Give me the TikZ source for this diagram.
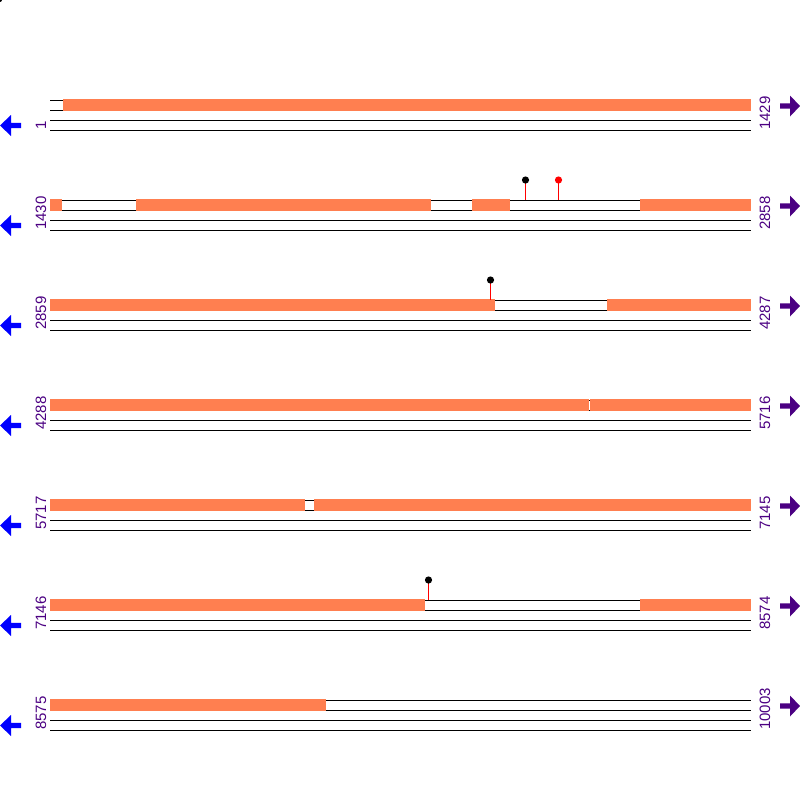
\documentclass[tikz,border=0pt]{standalone}
\usepackage{fontspec}
\setmainfont{Liberation Sans}
\definecolor{coral}{RGB}{255,127,80}
\definecolor{indigo}{RGB}{75,0,130}
\tikzset{
  seg/.style={fill=coral},
  num/.style={rotate=90,anchor=west,inner sep=0pt,text=indigo,
    font=\fontsize{15}{15}\selectfont},
  stick/.style={red,line width=1pt},
}
% orange piece of a row: \piece{row}{from}{to}
\newcommand{\piece}[3]{\fill[seg] (#2,#1-0.6) rectangle (#3,#1+10.6);}
% pin: \pinat{row}{x}{ball colour}
\newcommand{\pinat}[3]{\draw[stick] (#2,#1) -- (#2,#1-20);
  \fill[#3] (#2,#1-20) circle (3.6);}

\begin{document}
\begin{tikzpicture}[x=1pt,y=-1pt]
\useasboundingbox (0,0) rectangle (800,800);
\fill (0,0) circle (2);
\foreach \r/\a/\b in {100/1/1429,200/1430/2858,300/2859/4287,400/4288/5716,
    500/5717/7145,600/7146/8574,700/8575/10003} {
  \foreach \d in {0,10,20,30}
    \draw (50,\r+\d) -- (751,\r+\d);
  \node[num] (s\a) at (41,\r+30) {\a};
  \node[num] (e\a) at (765,\r+30) {\b};
  \fill[blue] (0,\r+25.5) -- (11,\r+15) -- (11,\r+22.8) -- (21,\r+22.8)
    -- (21,\r+28.2) -- (11,\r+28.2) -- (11,\r+36) -- cycle;
  \fill[indigo] (800,\r+6) -- (790,\r-4.5) -- (790,\r+3.3) -- (780,\r+3.3)
    -- (780,\r+8.7) -- (790,\r+8.7) -- (790,\r+16.5) -- cycle;
}
% row 1
\piece{100}{63}{751}
% row 2
\piece{200}{50}{62}
\piece{200}{136}{431}
\piece{200}{472}{510}
\piece{200}{640}{751}
% row 3
\piece{300}{50}{495}
\piece{300}{607}{751}
% row 4
\piece{400}{50}{589}
\piece{400}{590}{751}
% row 5
\piece{500}{50}{305}
\piece{500}{314}{751}
% row 6
\piece{600}{50}{425}
\piece{600}{640}{751}
% row 7
\piece{700}{50}{326}
% pins
\pinat{200}{525.5}{black}
\pinat{200}{558.5}{red}
\pinat{300}{490.5}{black}
\pinat{600}{428.5}{black}
\end{tikzpicture}
\end{document}
